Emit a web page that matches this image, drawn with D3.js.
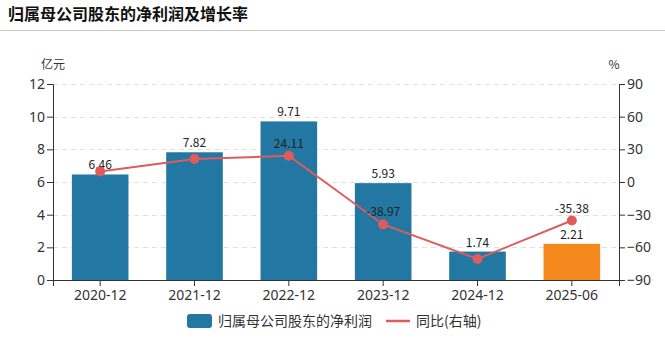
<!DOCTYPE html>
<html>
<head>
<meta charset="utf-8">
<script src="https://cdn.jsdelivr.net/npm/d3@7"></script>
<style>
  body { margin: 0; background: #fff; font-family: "Noto Sans CJK SC", "Noto Sans", sans-serif; }
  svg { display: block; }
</style>
</head>
<body>
<script>
// data
var categories = ["2020-12", "2021-12", "2022-12", "2023-12", "2024-12", "2025-06"];
var profit = [6.46, 7.82, 9.71, 5.93, 1.74, 2.21];
var growth = [9.6, 21.05, 24.11, -38.97, -70.66, -35.38];
var showGrowthLabel = [false, false, true, true, false, true];
var leftTicks = [0, 2, 4, 6, 8, 10, 12];
var rightTicks = [-90, -60, -30, 0, 30, 60, 90];

var W = 665, H = 340;
var margin = { left: 53, right: 46, top: 84, bottom: 60 };

var svg = d3.select("body").append("svg")
    .attr("width", W)
    .attr("height", H);

// title + separator
svg.append("text")
    .attr("x", 8).attr("y", 20)
    .attr("font-size", 16).attr("font-weight", "bold")
    .attr("fill", "#111")
    .text("归属母公司股东的净利润及增长率");
svg.append("line")
    .attr("x1", 0).attr("x2", W)
    .attr("y1", 30.5).attr("y2", 30.5)
    .attr("stroke", "#ccc");

var x = d3.scaleBand()
    .domain(categories)
    .range([margin.left, W - margin.right])
    .paddingInner(0.4).paddingOuter(0.2);

var yL = d3.scaleLinear().domain([0, 12]).range([H - margin.bottom, margin.top]);
var yR = d3.scaleLinear().domain([-90, 90]).range([H - margin.bottom, margin.top]);

// gridlines
svg.append("g").selectAll("line")
    .data(leftTicks.slice(1))
    .join("line")
    .attr("x1", margin.left).attr("x2", W - margin.right)
    .attr("y1", d => Math.round(yL(d)) + 0.5).attr("y2", d => Math.round(yL(d)) + 0.5)
    .attr("stroke", "#e0e0e0")
    .attr("stroke-dasharray", "5,4");

// bars
svg.append("g").selectAll("rect")
    .data(profit)
    .join("rect")
    .attr("x", (d, i) => x(categories[i]))
    .attr("width", x.bandwidth())
    .attr("y", d => yL(d))
    .attr("height", d => yL(0) - yL(d))
    .attr("fill", (d, i) => i == categories.length - 1 ? "#f5891d" : "#2277a3");

// bar labels
svg.append("g").selectAll("text")
    .data(profit)
    .join("text")
    .attr("x", (d, i) => x(categories[i]) + x.bandwidth() / 2)
    .attr("y", d => yL(d) - 5)
    .attr("text-anchor", "middle")
    .attr("font-size", 12)
    .attr("fill", "#222")
    .text(d => d.toFixed(2));

// growth line
var points = growth.map(function(v, i) {
    return { cat: categories[i], value: v, label: showGrowthLabel[i] };
});
var cx = d => x(d.cat) + x.bandwidth() / 2;
var line = d3.line()
    .x(cx)
    .y(d => yR(d.value));

svg.append("path")
    .datum(points)
    .attr("d", line)
    .attr("fill", "none")
    .attr("stroke", "#e05b5b")
    .attr("stroke-width", 2);

svg.append("g").selectAll("circle")
    .data(points)
    .join("circle")
    .attr("cx", cx)
    .attr("cy", d => yR(d.value))
    .attr("r", 5)
    .attr("fill", "#e05b5b");

svg.append("g").selectAll("text")
    .data(points.filter(d => d.label))
    .join("text")
    .attr("x", cx)
    .attr("y", d => yR(d.value) - 8)
    .attr("text-anchor", "middle")
    .attr("font-size", 12)
    .attr("fill", "#222")
    .text(d => d.value.toFixed(2));

// axes
function styleAxis(g) {
    g.selectAll("path, line").attr("stroke", "#333");
    g.selectAll("text").attr("fill", "#333").attr("font-size", 14)
        .attr("font-family", "'Noto Sans', sans-serif");
}

svg.append("g")
    .attr("transform", "translate(" + margin.left + ",0)")
    .call(d3.axisLeft(yL).tickValues(leftTicks).tickSizeOuter(0).tickSize(6).tickPadding(2))
    .call(styleAxis);

svg.append("g")
    .attr("transform", "translate(" + (W - margin.right) + ",0)")
    .call(d3.axisRight(yR).tickValues(rightTicks).tickSizeOuter(0).tickSize(6).tickPadding(2))
    .call(styleAxis);

svg.append("g")
    .attr("transform", "translate(0," + (H - margin.bottom) + ")")
    .call(d3.axisBottom(x).tickSizeOuter(0).tickSize(6).tickPadding(4))
    .call(styleAxis);

// axis unit labels, centred over each axis
svg.append("text")
    .attr("x", margin.left).attr("y", 69)
    .attr("text-anchor", "middle")
    .attr("font-size", 12).attr("fill", "#333")
    .text("亿元");
svg.append("text")
    .attr("x", W - margin.right - 5).attr("y", 69)
    .attr("text-anchor", "middle")
    .attr("font-size", 12).attr("fill", "#333")
    .text("%");

// legend
var legend = svg.append("g").attr("transform", "translate(0,321)");
legend.append("rect")
    .attr("x", 187).attr("y", -7)
    .attr("width", 25).attr("height", 14)
    .attr("rx", 3)
    .attr("fill", "#2277a3");
legend.append("text")
    .attr("x", 218).attr("y", 5)
    .attr("font-size", 14).attr("fill", "#333")
    .text("归属母公司股东的净利润");
legend.append("line")
    .attr("x1", 386).attr("x2", 410)
    .attr("y1", 0).attr("y2", 0)
    .attr("stroke", "#e05b5b")
    .attr("stroke-width", 2.5);
legend.append("text")
    .attr("x", 416).attr("y", 5)
    .attr("font-size", 14).attr("fill", "#333")
    .text("同比(右轴)");
</script>
</body>
</html>
